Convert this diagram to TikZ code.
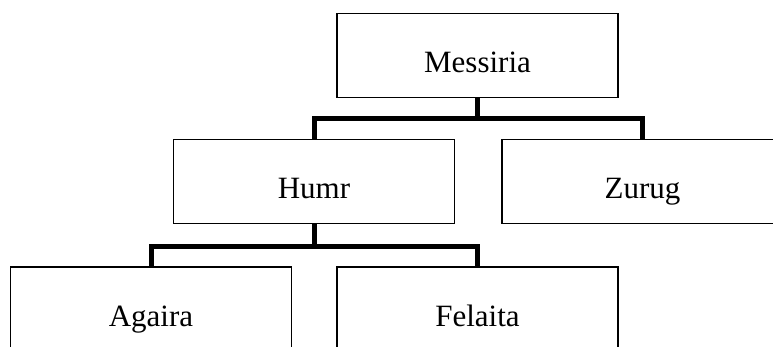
\documentclass[tikz,border=0pt]{standalone}
\usepackage{fontspec}
\setmainfont{Liberation Serif}
\begin{document}
\begin{tikzpicture}[x=1pt,y=-1pt,
  box/.style={draw=black,line width=1.2pt,rectangle,inner sep=0pt,
    minimum width=281pt,minimum height=84pt,
    text height=59.5pt,text depth=24.5pt,
    font=\fontsize{31}{36}\selectfont},
  conn/.style={draw=black,line width=5pt,line join=miter}]
\useasboundingbox (0,0) rectangle (773,347);
\node[box] (M) at (477.5,55.5) {Messiria};
\node[box] (H) at (314,181.5) {Humr};
\node[box] (Z) at (642.5,181.5) {Zurug};
\node[box] (A) at (151,309) {Agaira};
\node[box] (F) at (477.5,309) {Felaita};
\draw[conn] (M.south) -- ++(0,20) -| (H.north);
\draw[conn] (M.south) -- ++(0,20) -| (Z.north);
\draw[conn] (H.south) -- ++(0,22) -| (A.north);
\draw[conn] (H.south) -- ++(0,22) -| (F.north);
\end{tikzpicture}
\end{document}
